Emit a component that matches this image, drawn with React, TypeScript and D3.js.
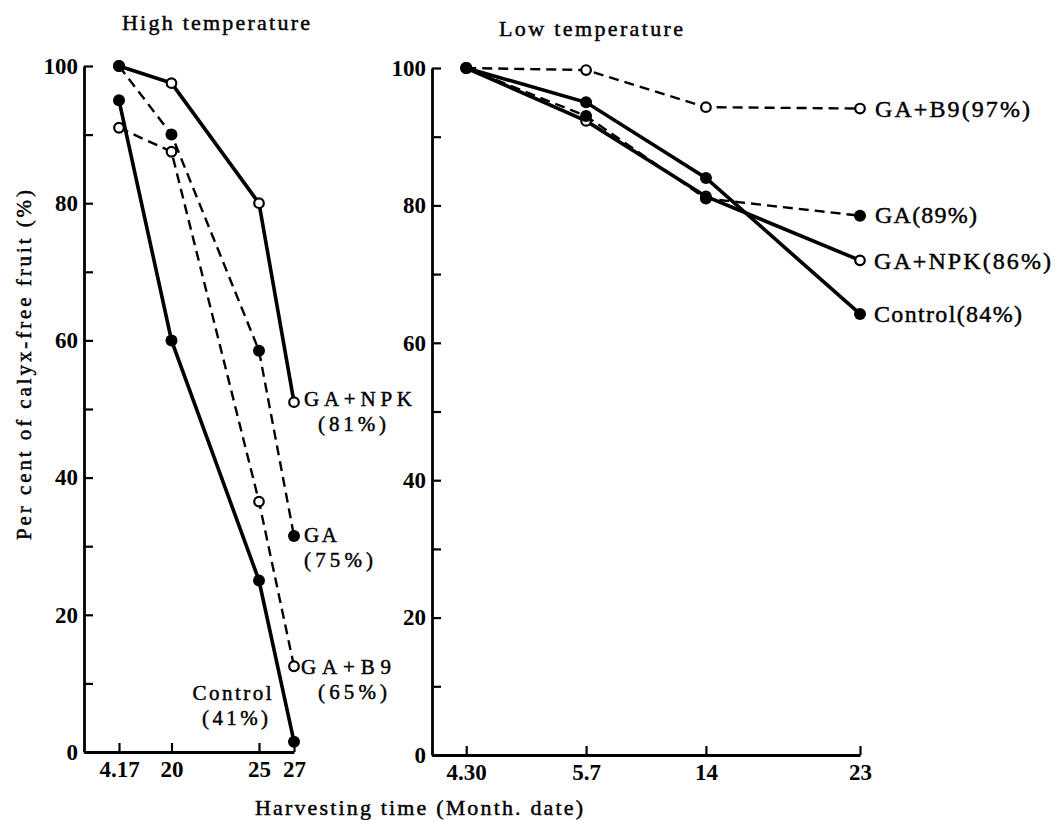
import * as d3 from "d3";
import React, { useEffect, useRef } from "react";

// High temperature panel (harvest dates in April)
const highDays = [17, 20, 25, 27];
const highDayLabels = ["4.17", "20", "25", "27"];
const highGaNpk = [100, 97.5, 80, 51];
const highGa = [100, 90, 58.5, 31.5];
const highControl = [95, 60, 25, 1.5];
const highGaB9 = [91, 87.5, 36.5, 12.5];

// Low temperature panel (days after 4.30)
const lowDays = [0, 7, 14, 23];
const lowDayLabels = ["4.30", "5.7", "14", "23"];
const lowGaB9 = [100, 99.7, 94.3, 94.1];
const lowGa = [100, 93, 81, 78.5];
const lowGaNpk = [100, 92.3, 81.3, 72];
const lowControl = [100, 95, 84, 64.2];

const yTicks = d3.range(0, 101, 10);
const FONT = "'Liberation Serif', 'DejaVu Serif', serif";

const App = () => {
  const chartRef = useRef(null);

  useEffect(() => {
    if (chartRef.current) drawChart();
  }, []);

  // text with a thin outline, to look like the heavy print of the original
  const addText = (parent, t) =>
    parent
      .append("text")
      .attr("x", t.x)
      .attr("y", t.y)
      .attr("transform", t.transform || null)
      .attr("text-anchor", t.anchor || "start")
      .attr("font-family", FONT)
      .attr("font-size", t.size)
      .attr("fill", "#000")
      .attr("stroke", "#000")
      .attr("stroke-width", 0.45)
      .attr("textLength", t.w || null)
      .attr("lengthAdjust", "spacing")
      .text(t.text);

  const drawChart = () => {
    const svg = d3.select(chartRef.current);
    svg.selectAll("*").remove();

    svg.append("rect").attr("width", 1055).attr("height", 820).attr("fill", "#fff");

    const drawPanel = (opts) => {
      const { x, y, days, dayLabels, series, title, labelSize } = opts;
      const g = svg.append("g");

      // y axis: ticks pointing inward, labels every 20
      const yAxis = d3
        .axisLeft(y)
        .tickValues(yTicks)
        .tickSizeInner(-9)
        .tickSizeOuter(0)
        .tickPadding(6)
        .tickFormat((d) => (d % 20 === 0 ? String(d) : ""));
      const ya = g.append("g").attr("transform", `translate(${x.range()[0]},0)`).call(yAxis);

      // x axis: ticks pointing up
      const xAxis = d3
        .axisBottom(x)
        .tickValues(days)
        .tickSizeInner(-9)
        .tickSizeOuter(0)
        .tickPadding(9)
        .tickFormat((d, i) => dayLabels[i]);
      const xa = g.append("g").attr("transform", `translate(0,${y.range()[0]})`).call(xAxis);

      [ya, xa].forEach((a) => {
        a.select(".domain").attr("stroke", "#000").attr("stroke-width", 2.8);
        a.selectAll(".tick line").attr("stroke", "#000").attr("stroke-width", 2.2);
        a.selectAll("text")
          .attr("fill", "#000")
          .attr("font-family", FONT)
          .attr("font-size", 23)
          .attr("font-weight", "bold");
      });

      addText(g, { ...title, anchor: "middle", size: 22 });

      const line = d3
        .line()
        .x((d, i) => x(days[i]))
        .y((d) => y(d));

      series.forEach((s) => {
        g.append("path")
          .datum(s.values)
          .attr("d", line)
          .attr("fill", "none")
          .attr("stroke", "#000")
          .attr("stroke-width", s.dashed ? 2.4 : 3.6)
          .attr("stroke-dasharray", s.dashed ? "10,6" : null);
      });

      // open markers first, filled on top
      const ordered = [...series].sort((a, b) => Number(a.filled) - Number(b.filled));
      ordered.forEach((s) => {
        g.selectAll(null)
          .data(s.values)
          .enter()
          .append("circle")
          .attr("cx", (d, i) => x(days[i]))
          .attr("cy", (d) => y(d))
          .attr("r", s.filled ? 6 : 4.8)
          .attr("fill", s.filled ? "#000" : "#fff")
          .attr("stroke", "#000")
          .attr("stroke-width", s.filled ? 0 : 2.2);
      });

      series.forEach((s) => {
        const last = s.values.length - 1;
        const px = x(days[last]);
        const py = y(s.values[last]);
        s.labels.forEach((l) => {
          addText(g, { ...l, x: px + l.dx, y: py + l.dy, size: labelSize });
        });
      });
    };

    const yHigh = d3.scaleLinear().domain([0, 100]).range([752, 66]);
    const xHigh = d3.scaleLinear().domain([15, 27]).range([84, 294]);
    drawPanel({
      x: xHigh,
      y: yHigh,
      days: highDays,
      dayLabels: highDayLabels,
      labelSize: 21,
      title: { text: "High temperature", x: 216, y: 30, w: 188 },
      series: [
        {
          values: highGaNpk, dashed: false, filled: false,
          labels: [
            { text: "GA+NPK", dx: 10, dy: 4, w: 108 },
            { text: "(81%)", dx: 24, dy: 29, w: 68 },
          ],
        },
        {
          values: highGa, dashed: true, filled: true,
          labels: [
            { text: "GA", dx: 10, dy: 6, w: 33 },
            { text: "(75%)", dx: 10, dy: 31, w: 69 },
          ],
        },
        {
          values: highControl, dashed: false, filled: true,
          labels: [
            { text: "Control", dx: -62, dy: -42, w: 79, anchor: "middle" },
            { text: "(41%)", dx: -59, dy: -17, w: 66, anchor: "middle" },
          ],
        },
        {
          values: highGaB9, dashed: true, filled: false,
          labels: [
            { text: "GA+B9", dx: 7, dy: 8, w: 90 },
            { text: "(65%)", dx: 24, dy: 33, w: 69 },
          ],
        },
      ],
    });

    const yLow = d3.scaleLinear().domain([0, 100]).range([755, 68]);
    const xLow = d3.scaleLinear().domain([-2, 23]).range([432, 860]);
    drawPanel({
      x: xLow,
      y: yLow,
      days: lowDays,
      dayLabels: lowDayLabels,
      labelSize: 24,
      title: { text: "Low temperature", x: 591, y: 36, w: 184 },
      series: [
        { values: lowGaB9, dashed: true, filled: false, labels: [{ text: "GA+B9(97%)", dx: 15, dy: 8, w: 155 }] },
        { values: lowGa, dashed: true, filled: true, labels: [{ text: "GA(89%)", dx: 15, dy: 7, w: 102 }] },
        { values: lowGaNpk, dashed: false, filled: false, labels: [{ text: "GA+NPK(86%)", dx: 14, dy: 9, w: 177 }] },
        { values: lowControl, dashed: false, filled: true, labels: [{ text: "Control(84%)", dx: 14, dy: 8, w: 148 }] },
      ],
    });

    // axis titles
    addText(svg, {
      text: "Per cent of calyx-free fruit (%)",
      x: 0,
      y: 0,
      transform: "translate(31,365) rotate(-90)",
      anchor: "middle",
      size: 21,
      w: 350,
    });

    addText(svg, {
      text: "Harvesting time (Month. date)",
      x: 419,
      y: 815,
      anchor: "middle",
      size: 22,
      w: 328,
    });
  };

  return (
    <svg
      ref={chartRef}
      width={1055}
      height={820}
      style={{ position: "absolute", left: 0, top: 0, display: "block" }}
    />
  );
};

export default App;
